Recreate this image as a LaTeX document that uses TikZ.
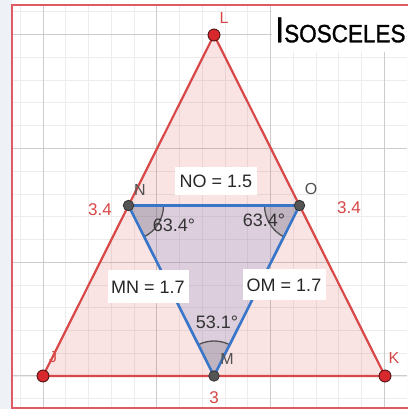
\documentclass[tikz,border=0pt]{standalone}
\usepackage{fontspec}
\setmainfont{Liberation Sans}
\newfontfamily\titlefont[FakeBold=1.2]{Liberation Sans}
\usepackage{graphicx}
\definecolor{geored}{RGB}{216,72,72}
\definecolor{framered}{RGB}{222,90,100}
\definecolor{geoblue}{RGB}{58,118,200}
\definecolor{innerfill}{RGB}{130,140,200}
\definecolor{minorgrid}{RGB}{236,236,236}
\definecolor{majorgrid}{RGB}{204,204,204}
\definecolor{ptgray}{RGB}{85,85,85}
\definecolor{labgray}{RGB}{80,80,80}
\definecolor{dotred}{RGB}{214,40,45}
\definecolor{strip}{RGB}{238,241,245}
\tikzset{
  reddot/.style={circle, fill=dotred, draw=black!70!dotred, line width=0.8pt, inner sep=0pt, minimum size=12pt},
  graydot/.style={circle, fill=ptgray, draw=black!80, line width=0.8pt, inner sep=0pt, minimum size=10.5pt},
  redlab/.style={text=geored, font=\fontsize{16}{18}\selectfont, inner sep=0pt},
  graylab/.style={text=labgray, font=\fontsize{16}{18}\selectfont, inner sep=0pt},
  valbox/.style={fill=white, text=black!85, font=\fontsize{18}{20}\selectfont, inner sep=0pt},
  anglab/.style={text=black!80, font=\fontsize{18}{20}\selectfont, inner sep=0pt},
  sideline/.style={draw=geored, line width=2.2pt},
  blueline/.style={draw=geoblue, line width=2.6pt},
  sector/.style={fill=black, fill opacity=0.12},
  arcline/.style={draw=labgray, line width=1.3pt}
}
\begin{document}
\begin{tikzpicture}[x=1pt,y=1pt]
\useasboundingbox (0,0) rectangle (407,409);
\fill[strip] (0,0) rectangle (12,409);
\fill[white] (12,0) rectangle (407,409);
% grid
\begin{scope}
\clip (12,1) rectangle (407,404);
\foreach \i in {-2,...,16} {
  \draw[minorgrid, line width=0.8pt] ({43+\i*22.76},0) -- ({43+\i*22.76},409);
  \draw[minorgrid, line width=0.8pt] (0,{33+\i*22.76}) -- (407,{33+\i*22.76});
}
\foreach \i in {-1,...,3} {
  \draw[majorgrid, line width=1pt] ({43+\i*113.8},0) -- ({43+\i*113.8},409);
  \draw[majorgrid, line width=1pt] (0,{33+\i*113.8}) -- (407,{33+\i*113.8});
}
\end{scope}
% title box
\fill[white] (272,357) rectangle (408,404);
% frame
\draw[framered, line width=1.6pt] (408,404) -- (12,404) -- (12,1) -- (408,1);
% points
\coordinate (L) at (214,374);
\coordinate (J) at (43,33);
\coordinate (K) at (385,33);
\coordinate (M) at (214,33);
\coordinate (N) at (128.5,203.5);
\coordinate (O) at (299.5,203.5);
% big triangle
\fill[geored, fill opacity=0.15] (J) -- (K) -- (L) -- cycle;
\draw[sideline, line join=round] (J) -- (K) -- (L) -- cycle;
% inner triangle
\fill[innerfill, fill opacity=0.24] (N) -- (O) -- (M) -- cycle;
% angle sectors
\fill[sector] (N) -- ++(-63.43:35) arc (-63.43:0:35) -- cycle;
\fill[sector] (O) -- ++(180:35) arc (180:243.43:35) -- cycle;
\fill[sector] (M) -- ++(63.43:35) arc (63.43:116.57:35) -- cycle;
\draw[arcline] (N) ++(-63.43:35) arc (-63.43:0:35);
\draw[arcline] (O) ++(180:35) arc (180:243.43:35);
\draw[arcline] (M) ++(63.43:35) arc (63.43:116.57:35);
\draw[blueline, line join=round] (N) -- (O) -- (M) -- cycle;
% dots
\node[reddot] (dL) at (L) {};
\node[reddot] (dJ) at (J) {};
\node[reddot] (dK) at (K) {};
\node[graydot] (dN) at (N) {};
\node[graydot] (dO) at (O) {};
\node[graydot] (dM) at (M) {};
% value boxes
\node[valbox, minimum width=82pt, minimum height=28pt] (no) at (216,228) {NO = 1.5};
\node[valbox, minimum width=81pt, minimum height=33pt] (mn) at (148,122) {MN = 1.7};
\node[valbox, minimum width=83pt, minimum height=31pt] (om) at (284,124) {OM = 1.7};
% angle labels
\node[anglab] (aN) at (174,184) {63.4°};
\node[anglab] (aO) at (264,189) {63.4°};
\node[anglab] (aM) at (217,87) {53.1°};
% point labels
\node[redlab] (tL) at (224,391) {L};
\node[redlab] (tJ) at (53,52) {J};
\node[redlab] (tK) at (394,51) {K};
\node[graylab] (tN) at (140,219) {N};
\node[graylab] (tO) at (311,220) {O};
\node[graylab] (tM) at (227,50) {M};
% side lengths
\node[redlab, font=\fontsize{17}{19}\selectfont] (sL) at (100,199) {3.4};
\node[redlab, font=\fontsize{17}{19}\selectfont] (sR) at (349,201) {3.4};
\node[redlab, font=\fontsize{17}{19}\selectfont] (sB) at (214,11) {3};
% title
\node[inner sep=0pt, anchor=west] (title) at (275,379) {\scalebox{0.9}[1]{\titlefont\fontsize{36}{38}\selectfont I\fontsize{25}{27}\selectfont SOSCELES}};
\end{tikzpicture}
\end{document}
